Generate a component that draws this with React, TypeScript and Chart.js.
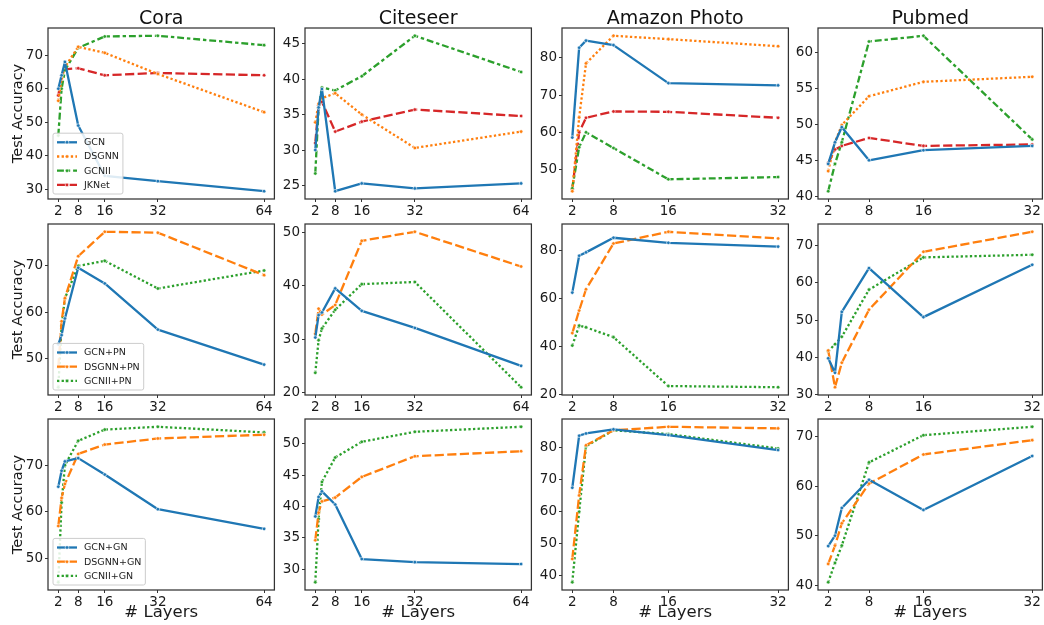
import React, { useEffect, useRef } from 'react';
import { Chart, registerables } from 'chart.js';

Chart.register(...registerables);

// ---------- data ----------
const LAYERS_64 = [2, 3, 4, 8, 16, 32, 64];
const LAYERS_32 = [2, 3, 4, 8, 16, 32];
const X_TICKS = [2, 8, 16, 32, 64];
const DATASET_NAMES = ['Cora', 'Citeseer', 'Amazon Photo', 'Pubmed'];

const ROW0_NAMES = ['GCN', 'DSGNN', 'GCNII', 'JKNet'];
const ROW1_NAMES = ['GCN+PN', 'DSGNN+PN', 'GCNII+PN'];
const ROW2_NAMES = ['GCN+GN', 'DSGNN+GN', 'GCNII+GN'];

// row 1 (plain models)
const coraGCN = [60, 64, 68, 49, 34, 32.4, 29.4];
const coraDSGNN = [56.4, 63, 66.5, 72.5, 70.7, 64.4, 53];
const coraGCNII = [46, 60, 65.5, 72.2, 75.6, 75.8, 73];
const coraJKNet = [58, 63.5, 65.8, 66.1, 64, 64.7, 64];

const citeseerGCN = [30, 36, 38.6, 24.2, 25.3, 24.6, 25.3];
const citeseerDSGNN = [33.9, 36.5, 37.3, 38, 35, 30.3, 32.6];
const citeseerGCNII = [26.7, 36, 38.8, 38.4, 40.4, 46.1, 41];
const citeseerJKNet = [31, 36.3, 36.8, 32.6, 34, 35.7, 34.8];

const amazonGCN = [58.6, 82.7, 84.6, 83.4, 73.2, 72.6];
const amazonDSGNN = [44.2, 64, 78.5, 85.9, 85, 83.1];
const amazonGCNII = [45, 56, 60, 55.8, 47.4, 48];
const amazonJKNet = [44.7, 60, 63.9, 65.6, 65.5, 63.9];

const pubmedGCN = [44.5, 47.5, 49.6, 45, 46.4, 47];
const pubmedDSGNN = [43.5, 47.5, 49.9, 53.9, 55.9, 56.6];
const pubmedGCNII = [40.7, 44.5, 47.5, 61.5, 62.3, 47.9];
const pubmedJKNet = [44.6, 46.5, 47, 48.1, 47, 47.2];

// row 2 (+PN)
const coraGCNPN = [53, 55, 58.6, 69.6, 66.2, 56.2, 48.6];
const coraDSGNNPN = [48, 58, 63, 72.1, 77.4, 77.2, 68];
const coraGCNIIPN = [43.7, 57, 63, 70, 71.1, 65.1, 69];

const citeseerGCNPN = [30.3, 34.5, 35, 39.5, 35.3, 32.1, 25];
const citeseerDSGNNPN = [31, 35.7, 34.6, 36.4, 48.4, 50.1, 43.6];
const citeseerGCNIIPN = [23.7, 29.8, 32, 35.5, 40.3, 40.7, 21];

const amazonGCNPN = [62.5, 77.9, 79.3, 85.4, 83.3, 81.7];
const amazonDSGNNPN = [45.6, 55, 63.9, 83, 87.9, 85.1];
const amazonGCNIIPN = [40.4, 48.7, 48, 43.9, 23.5, 23.0];

const pubmedGCNPN = [39.7, 35.8, 52.2, 64, 50.8, 64.9];
const pubmedDSGNNPN = [41.8, 31.9, 38.5, 52.8, 68.4, 73.8];
const pubmedGCNIIPN = [41.6, 43.5, 45.5, 58.2, 66.9, 67.6];

// row 3 (+GN)
const coraGCNGN = [65.4, 68.8, 70.8, 71.5, 68, 60.6, 56.4];
const coraDSGNNGN = [57, 63, 66, 72.4, 74.4, 75.7, 76.5];
const coraGCNIIGN = [45, 62, 70, 75.2, 77.6, 78.2, 77];

const citeseerGCNGN = [38.4, 41.5, 42.4, 40.3, 31.6, 31.1, 30.8];
const citeseerDSGNNGN = [34.6, 39, 40.8, 41.4, 44.7, 48, 48.8];
const citeseerGCNIIGN = [27.9, 38, 43.9, 47.8, 50.3, 51.9, 52.7];

const amazonGCNGN = [67.5, 83.8, 84.5, 85.8, 84, 79.3];
const amazonDSGNNGN = [45.2, 65.1, 80.8, 85.5, 86.6, 86.1];
const amazonGCNIIGN = [37.9, 60, 80.5, 85.5, 84.3, 79.8];

const pubmedGCNGN = [47.9, 50, 55.6, 61.3, 55.2, 66.1];
const pubmedDSGNNGN = [44.3, 48, 52.5, 60.5, 66.4, 69.3];
const pubmedGCNIIGN = [40.6, 44.5, 48, 64.8, 70.3, 72];

const Y_STEPS = [
  [10, 5, 10, 5],
  [10, 10, 20, 10],
  [10, 5, 10, 10],
];

// ---------- style ----------
const FONT = '"DejaVu Sans", "Liberation Sans", sans-serif';
const BLUE = '#1f77b4';
const ORANGE = '#ff7f0e';
const GREEN = '#2ca02c';
const RED = '#d62728';
const LW = 2.3;
const SOLID: number[] = [];
const DOTTED = [2.3, 2.3];
const DASHED = [9.2, 3.4];
const DASHDOT = [6.9, 2.9, 3.4, 2.9];

const ROWS = [
  {
    names: ROW0_NAMES,
    colors: [BLUE, ORANGE, GREEN, RED],
    dashes: [SOLID, DOTTED, DASHDOT, DASHED],
    values: [
      [coraGCN, coraDSGNN, coraGCNII, coraJKNet],
      [citeseerGCN, citeseerDSGNN, citeseerGCNII, citeseerJKNet],
      [amazonGCN, amazonDSGNN, amazonGCNII, amazonJKNet],
      [pubmedGCN, pubmedDSGNN, pubmedGCNII, pubmedJKNet],
    ],
  },
  {
    names: ROW1_NAMES,
    colors: [BLUE, ORANGE, GREEN],
    dashes: [SOLID, DASHED, DOTTED],
    values: [
      [coraGCNPN, coraDSGNNPN, coraGCNIIPN],
      [citeseerGCNPN, citeseerDSGNNPN, citeseerGCNIIPN],
      [amazonGCNPN, amazonDSGNNPN, amazonGCNIIPN],
      [pubmedGCNPN, pubmedDSGNNPN, pubmedGCNIIPN],
    ],
  },
  {
    names: ROW2_NAMES,
    colors: [BLUE, ORANGE, GREEN],
    dashes: [SOLID, DASHED, DOTTED],
    values: [
      [coraGCNGN, coraDSGNNGN, coraGCNIIGN],
      [citeseerGCNGN, citeseerDSGNNGN, citeseerGCNIIGN],
      [amazonGCNGN, amazonDSGNNGN, amazonGCNIIGN],
      [pubmedGCNGN, pubmedDSGNNGN, pubmedGCNIIGN],
    ],
  },
];

// ---------- layout ----------
const PLOT_LEFT = [48, 305, 562, 818];
const PLOT_W = [227, 227, 227, 225];
const PLOT_TOP = [28, 224, 419];
const PLOT_H = 171;

const framePlugin = {
  id: 'frame',
  afterDatasetsDraw(chart: any) {
    const { ctx, chartArea: a } = chart;
    ctx.save();
    ctx.strokeStyle = '#333333';
    ctx.lineWidth = 1.25;
    ctx.strokeRect(a.left, a.top, a.right - a.left, a.bottom - a.top);
    ctx.restore();
  },
};

function titlePlugin(text: string | null) {
  return {
    id: 'panelTitle',
    afterDraw(chart: any) {
      if (!text) return;
      const { ctx, chartArea: a } = chart;
      ctx.save();
      ctx.font = `19px ${FONT}`;
      ctx.fillStyle = '#111111';
      ctx.textAlign = 'center';
      ctx.textBaseline = 'alphabetic';
      ctx.fillText(text, (a.left + a.right) / 2, a.top - 4);
      ctx.restore();
    },
  };
}

function legendPlugin(show: boolean) {
  return {
    id: 'boxLegend',
    afterDraw(chart: any) {
      if (!show) return;
      const { ctx, chartArea: a } = chart;
      const items = chart.data.datasets;
      ctx.save();
      ctx.font = `9.5px ${FONT}`;
      const textW = Math.max(...items.map((d: any) => ctx.measureText(d.label).width));
      const rowH = 14.2;
      const padX = 4;
      const lineLen = 20;
      const gap = 7;
      const w = padX + lineLen + gap + textW + 4;
      const h = items.length * rowH + 4;
      const x0 = a.left + 5;
      const y0 = a.bottom - 5 - h;
      ctx.beginPath();
      if ((ctx as any).roundRect) (ctx as any).roundRect(x0, y0, w, h, 2);
      else ctx.rect(x0, y0, w, h);
      ctx.fillStyle = 'rgba(255,255,255,0.85)';
      ctx.fill();
      ctx.strokeStyle = '#cccccc';
      ctx.lineWidth = 1;
      ctx.stroke();
      items.forEach((d: any, i: number) => {
        const cy = y0 + 2 + rowH * (i + 0.5);
        ctx.beginPath();
        ctx.setLineDash(d.borderDash || []);
        ctx.strokeStyle = d.borderColor;
        ctx.lineWidth = d.borderWidth;
        ctx.moveTo(x0 + padX, cy);
        ctx.lineTo(x0 + padX + lineLen, cy);
        ctx.stroke();
        ctx.setLineDash([]);
        ctx.beginPath();
        ctx.arc(x0 + padX + lineLen / 2, cy, 1.8, 0, Math.PI * 2);
        ctx.fillStyle = d.borderColor;
        ctx.fill();
        ctx.strokeStyle = '#ffffff';
        ctx.lineWidth = 0.6;
        ctx.stroke();
        ctx.fillStyle = '#222222';
        ctx.textAlign = 'left';
        ctx.textBaseline = 'middle';
        ctx.fillText(d.label, x0 + padX + lineLen + gap, cy + 0.5);
      });
      ctx.restore();
    },
  };
}

function Panel({ row, col }: { row: number; col: number }) {
  const ref = useRef<HTMLCanvasElement>(null);
  const yw = col === 0 ? 48 : 32;
  const topPad = row === 0 ? 32 : 12;
  const xh = row === 2 ? 33 : 22;
  const rightPad = 4;
  const w = yw + PLOT_W[col] + rightPad;
  const h = topPad + PLOT_H + xh;

  useEffect(() => {
    const spec = ROWS[row];
    const xs = col <= 1 ? LAYERS_64 : LAYERS_32;
    const series = spec.values[col];
    const datasets = series.map((vals, i) => ({
      label: spec.names[i],
      data: vals.map((v, j) => ({ x: xs[j], y: v })),
      borderColor: spec.colors[i],
      backgroundColor: spec.colors[i],
      borderWidth: LW,
      borderDash: spec.dashes[i],
      borderCapStyle: 'butt',
      borderJoinStyle: 'round',
      pointRadius: 1.8,
      pointBackgroundColor: spec.colors[i],
      pointBorderColor: '#ffffff',
      pointBorderWidth: 0.6,
      tension: 0,
      fill: false,
    }));
    const all = series.flat();
    const lo = Math.min(...all);
    const hi = Math.max(...all);
    const ypad = (hi - lo) * 0.05;
    const ymin = lo - ypad;
    const ymax = hi + ypad;
    const xlo = xs[0];
    const xhi = xs[xs.length - 1];
    const xpad = (xhi - xlo) * 0.05;
    const step = Y_STEPS[row][col];
    const tickColor = '#1a1a1a';

    const chart = new Chart(ref.current as HTMLCanvasElement, {
      type: 'line',
      data: { datasets } as any,
      options: {
        animation: false,
        responsive: false,
        devicePixelRatio: 1,
        layout: { padding: { top: topPad, right: rightPad, left: 0, bottom: 0 } },
        plugins: {
          legend: { display: false },
          tooltip: { enabled: false },
          title: { display: false },
        },
        scales: {
          x: {
            type: 'linear',
            min: xlo - xpad,
            max: xhi + xpad,
            afterBuildTicks: (s: any) => {
              s.ticks = X_TICKS.filter((v) => v <= xhi).map((v) => ({ value: v }));
            },
            afterFit: (s: any) => {
              s.height = xh;
            },
            grid: { drawOnChartArea: false, drawTicks: true, tickLength: 3, color: '#333333', lineWidth: 1 },
            border: { display: false },
            ticks: { font: { family: FONT, size: 13.5 }, color: tickColor, padding: 1, maxRotation: 0, autoSkip: false },
            title: {
              display: row === 2,
              text: '# Layers',
              font: { family: FONT, size: 16.5 },
              color: tickColor,
              padding: { top: 0, bottom: 0 },
            },
          },
          y: {
            type: 'linear',
            min: ymin,
            max: ymax,
            afterBuildTicks: (s: any) => {
              const t: any[] = [];
              for (let v = Math.ceil(ymin / step) * step; v <= ymax + 1e-9; v += step) t.push({ value: v });
              s.ticks = t;
            },
            afterFit: (s: any) => {
              s.width = yw;
            },
            grid: { drawOnChartArea: false, drawTicks: true, tickLength: 3, color: '#333333', lineWidth: 1 },
            border: { display: false },
            ticks: { font: { family: FONT, size: 13.5 }, color: tickColor, padding: 2 },
            title: {
              display: col === 0,
              text: 'Test Accuracy',
              font: { family: FONT, size: 14.5 },
              color: tickColor,
              padding: { top: 10, bottom: 0 },
            },
          },
        },
      } as any,
      plugins: [framePlugin, titlePlugin(row === 0 ? DATASET_NAMES[col] : null), legendPlugin(col === 0)],
    });
    return () => chart.destroy();
  }, [row, col]);

  return (
    <canvas
      ref={ref}
      width={w}
      height={h}
      style={{ position: 'absolute', left: PLOT_LEFT[col] - yw, top: PLOT_TOP[row] - topPad, width: w, height: h }}
    />
  );
}

export default function App() {
  const cells: JSX.Element[] = [];
  for (let r = 0; r < 3; r++) {
    for (let c = 0; c < 4; c++) {
      cells.push(<Panel key={`${r}-${c}`} row={r} col={c} />);
    }
  }
  return (
    <div
      style={{
        position: 'absolute',
        left: 0,
        top: 0,
        width: 1044,
        height: 625,
        background: '#ffffff',
        overflow: 'hidden',
      }}
    >
      {cells}
    </div>
  );
}
